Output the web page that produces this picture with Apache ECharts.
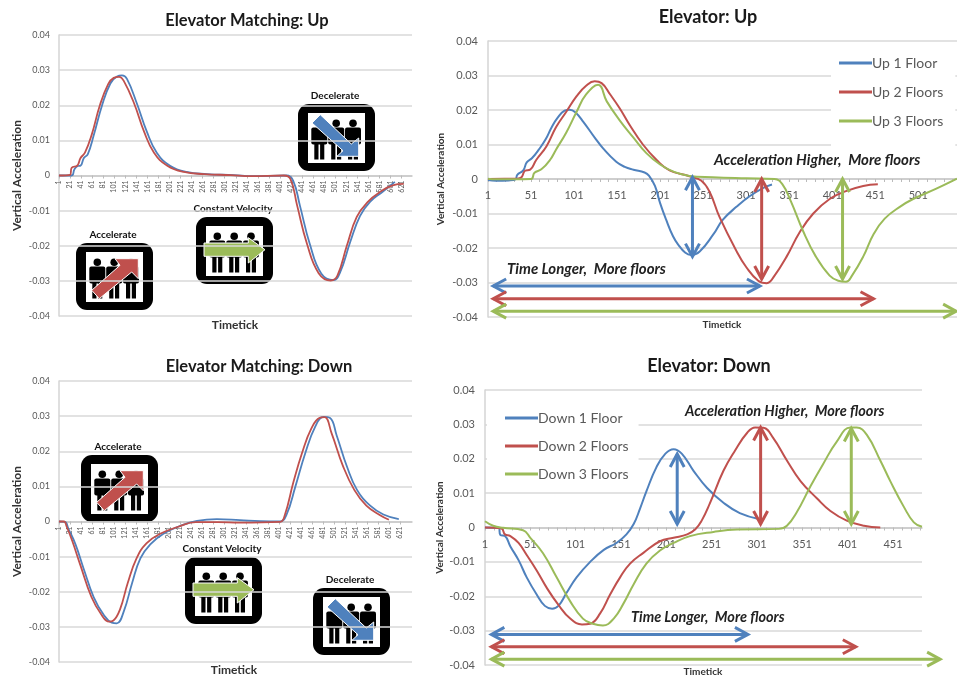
<!DOCTYPE html>
<html>
<head>
<meta charset="utf-8">
<style>html,body{margin:0;padding:0;background:#fff}#chart{width:957px;height:679px}</style>
<script src="https://cdn.jsdelivr.net/npm/echarts@6/dist/echarts.min.js"></script>
</head>
<body>
<div id="chart"></div>
<script>
// Elevator vertical acceleration traces, as [timetick, acceleration] pairs.
const matchUpBlue = [[1,0],[24,0],[29,.0018],[35,.0027],[40,.0028],[46,.005],[53,.006],[64,.0115],[79,.02],[94,.0262],[106,.0282],[115,.0285],[124,.0275],[142,.0205],[160,.0125],[178,.0065],[202,.0028],[232,.001],[269,.0004],[317,.0001],[353,-.0002],[413,0],[425,-.0015],[437,-.0085],[455,-.0195],[476,-.028],[498,-.0298],[510,-.0275],[528,-.019],[546,-.0115],[564,-.0075],[588,-.0045],[609,-.0018]];
const matchUpRed = [[1,0],[21,.0002],[24,.0022],[34,.0028],[40,.005],[48,.0065],[60,.0115],[75,.02],[90,.026],[100,.0278],[110,.0281],[118,.027],[137,.0205],[155,.0125],[173,.0065],[197,.0028],[227,.001],[264,.0004],[312,.0001],[348,-.0002],[408,0],[420,-.001],[432,-.0085],[450,-.0195],[471,-.0278],[493,-.0299],[505,-.0285],[522,-.02],[540,-.0118],[560,-.0075],[584,-.0045],[605,-.0028],[625,-.0024]];

const matchDownBlue = [[1,0],[12,-.0001],[18,-.002],[31,-.0065],[46,-.0135],[64,-.0215],[82,-.0265],[97,-.0288],[106,-.029],[119,-.0255],[134,-.0175],[149,-.0105],[167,-.0065],[191,-.0035],[222,-.0012],[252,.0002],[288,.0007],[330,.0004],[367,.0001],[403,0],[415,.002],[431,.01],[449,.0195],[467,.027],[482,.0298],[494,.0295],[506,.0245],[525,.0155],[543,.009],[567,.0045],[591,.002],[619,.0007]];
const matchDownRed = [[1,0],[10,0],[15,-.0015],[25,-.0055],[40,-.0125],[60,-.0215],[78,-.0265],[92,-.0285],[100,-.0282],[112,-.025],[126,-.0175],[142,-.0105],[160,-.0062],[185,-.0035],[218,-.0015],[250,-.0002],[290,-.0002],[330,-.0003],[403,-.0001],[412,.002],[427,.011],[443,.0195],[460,.0265],[475,.0295],[484,.0297],[497,.025],[517,.016],[538,.009],[560,.0045],[585,.0018],[601,.0005]];

const up1Floor = [[1,-.0003],[10,-.0005],[25,-.0004],[33,-.0001],[35,.0012],[42,.0025],[46,.0048],[52,.006],[60,.0085],[68,.0115],[75,.015],[82,.0178],[90,.0198],[96,.0201],[103,.0192],[112,.0165],[125,.012],[135,.0088],[150,.005],[160,.0035],[170,.0027],[183,.0019],[188,.001],[195,-.002],[201,-.007],[208,-.0118],[216,-.0166],[222,-.019],[230,-.0213],[237,-.022],[247,-.021],[263,-.016],[274,-.0118],[290,-.008],[305,-.005],[321,-.0026],[331,-.0016]];
const up2Floors = [[1,0],[20,.0001],[35,.0001],[40,.0005],[44,.0024],[50,.0027],[57,.0055],[69,.0095],[80,.015],[92,.0195],[104,.024],[115,.027],[125,.0283],[133,.0278],[143,.0245],[154,.0205],[166,.0155],[181,.01],[197,.0055],[212,.0025],[235,.0008],[249,-.0005],[259,-.004],[270,-.011],[290,-.021],[301,-.0255],[315,-.0295],[325,-.0302],[334,-.028],[348,-.0225],[363,-.0155],[379,-.01],[398,-.0058],[417,-.0035],[437,-.002],[454,-.0015]];
const up3Floors = [[1,.0001],[10,-.0001],[51,0],[55,.0018],[63,.0028],[73,.0055],[80,.0085],[92,.0135],[104,.0195],[115,.0245],[129,.0273],[139,.0225],[154,.017],[170,.012],[185,.0075],[201,.0042],[216,.0022],[235,.0009],[262,.0005],[301,.0002],[334,0],[343,-.0015],[353,-.0065],[367,-.015],[382,-.0225],[398,-.028],[408,-.0295],[417,-.0298],[424,-.028],[437,-.0225],[449,-.016],[462,-.0115],[480,-.008],[495,-.0058],[522,-.0028],[546,.0001]];

const down1Floor = [[1,0],[16,-.0001],[18,-.0022],[23,-.0025],[29,-.0055],[38,-.0095],[47,-.0145],[58,-.0195],[67,-.0228],[75,-.0236],[82,-.0228],[91,-.019],[102,-.0145],[117,-.01],[132,-.0065],[146,-.0045],[157,-.002],[165,.001],[172,.0055],[179,.0105],[190,.0175],[200,.0215],[209,.0228],[218,.0215],[231,.0165],[246,.0115],[264,.0072],[282,.0042],[303,.0025]];
const down2Floors = [[1,0],[19,-.0003],[23,-.002],[29,-.0025],[38,-.0045],[47,-.008],[58,-.0125],[69,-.0175],[82,-.0225],[95,-.0265],[108,-.0282],[117,-.028],[128,-.025],[139,-.0195],[150,-.0145],[161,-.0105],[176,-.0073],[194,-.004],[209,-.003],[224,-.002],[233,-.0005],[240,.002],[249,.007],[264,.0165],[277,.0225],[290,.0275],[299,.0291],[308,.029],[319,.026],[334,.0195],[349,.0135],[367,.0085],[382,.0048],[400,.002],[419,.0005],[437,0]];
const down3Floors = [[1,.0018],[10,.0005],[21,-.0001],[43,-.0008],[51,-.003],[65,-.0075],[80,-.0145],[95,-.0215],[109,-.0265],[120,-.028],[131,-.0285],[143,-.0265],[154,-.022],[165,-.0165],[179,-.0105],[194,-.0067],[209,-.0045],[227,-.0025],[253,-.0013],[279,-.0006],[325,-.0004],[334,.0005],[345,.0045],[360,.012],[374,.0185],[389,.025],[404,.0291],[411,.0291],[422,.027],[437,.0195],[448,.0135],[463,.006],[474,.0015],[483,.0002]];

// Double-headed annotation arrows: one per floor count.
const upPeakArrows = [[238.6,.0005,238.6,-.0225],[319,0,319,-.029],[413,0,413,-.029]];
const upSpanArrows = [[7,-.031,317,-.031],[7,-.0347,449,-.0347],[7,-.0383,545,-.0383]];
const downPeakArrows = [[213,.0214,213,.001],[305,.0291,305,.001],[405,.0288,405,.001]];
const downSpanArrows = [[8,-.0311,291,-.0311],[8,-.0347,410,-.0347],[8,-.0383,503,-.0383]];

const everyTwenty = [];
for (let t = 1; t <= 621; t += 20) everyTwenty.push(t);
const everyFifty = [1,51,101,151,201,251,301,351,401,451,501];
const everyFiftyShort = [1,51,101,151,201,251,301,351,401,451];
const everyTen = [];
for (let t = 1; t <= 541; t += 10) everyTen.push(t);

const BLUE = '#4f81bd', RED = '#c0504d', GREEN = '#9bbb59';
const PALETTE = [BLUE, RED, GREEN];
const FONT = 'Lato';

const panels = [
  {box:[59,35,353,281], xMax:640, labels:everyTwenty, ticks:everyTwenty, labelSize:7, rotate:90, margin:5, yFont:9, yMargin:9, nameFont:12, nameGap:36, xFont:12, xx:235, xy:319, w:1.8,
   title:'Elevator Matching: Up', tx:247, ty:12, tf:16.5, lines:[['Matched up A',matchUpBlue,BLUE],['Matched up B',matchUpRed,RED]]},
  {box:[488,41,469,276], xMax:546, labels:everyFifty, ticks:everyTen, labelSize:11, rotate:0, margin:11, yFont:11, yMargin:10, nameFont:10, nameGap:42, xFont:10, xx:722, xy:320, w:2,
   title:'Elevator: Up', tx:708, ty:8, tf:18, lines:[['Up 1 Floor',up1Floor,BLUE],['Up 2 Floors',up2Floors,RED],['Up 3 Floors',up3Floors,GREEN]], arrows:[upPeakArrows,upSpanArrows]},
  {box:[59,381,353,281], xMax:643, labels:everyTwenty, ticks:everyTwenty, labelSize:7, rotate:90, margin:5, yFont:9, yMargin:9, nameFont:12, nameGap:36, xFont:12, xx:234, xy:664, w:1.8,
   title:'Elevator Matching: Down', tx:259, ty:358, tf:16.5, lines:[['Matched down A',matchDownBlue,BLUE],['Matched down B',matchDownRed,RED]]},
  {box:[485,390,437,275], xMax:483, labels:everyFiftyShort, ticks:everyTen.filter(t => t <= 481), labelSize:11, rotate:0, margin:11, yFont:11, yMargin:10, nameFont:10, nameGap:36, xFont:10, xx:703, xy:667, w:2,
   title:'Elevator: Down', tx:709, ty:357, tf:18, lines:[['Down 1 Floor',down1Floor,BLUE],['Down 2 Floors',down2Floors,RED],['Down 3 Floors',down3Floors,GREEN]], arrows:[downPeakArrows,downSpanArrows]}
];

// Open-headed double arrow drawn through the panel's axes.
function renderArrow(params, api) {
  const a = api.coord([api.value(0), api.value(1)]);
  const b = api.coord([api.value(2), api.value(3)]);
  const color = PALETTE[api.value(4)];
  const ang = Math.atan2(b[1] - a[1], b[0] - a[0]);
  const len = 13, half = 7;
  const head = (p, dir) => {
    const ux = Math.cos(dir), uy = Math.sin(dir);
    return {type:'polyline', shape:{points:[
      [p[0] + ux * len - uy * half, p[1] + uy * len + ux * half], p,
      [p[0] + ux * len + uy * half, p[1] + uy * len - ux * half]
    ]}, style:{stroke:color, lineWidth:3, fill:null, lineJoin:'miter'}};
  };
  return {type:'group', children:[
    {type:'line', shape:{x1:a[0], y1:a[1], x2:b[0], y2:b[1]}, style:{stroke:color, lineWidth:3}},
    head(a, ang), head(b, ang + Math.PI)
  ]};
}

const grid = [], xAxis = [], yAxis = [], series = [], title = [];
panels.forEach((p, i) => {
  grid.push({left:p.box[0], top:p.box[1], width:p.box[2], height:p.box[3], outerBoundsMode:'none'});
  title.push({text:p.title, left:p.tx, top:p.ty, textAlign:'center', padding:0,
    textStyle:{fontFamily:FONT, fontWeight:'bold', fontSize:p.tf, color:'#1a1a1a'}});
  title.push({text:'Timetick', left:p.xx, top:p.xy, textAlign:'center', padding:0,
    textStyle:{fontFamily:FONT, fontWeight:'bold', fontSize:p.xFont, color:'#333'}});
  // The time axis runs along the zero level, halfway up the symmetric value range.
  xAxis.push({type:'value', gridIndex:i, min:1, max:p.xMax, splitLine:{show:false},
    position:'bottom', offset:-p.box[3] / 2,
    axisLine:{onZero:false, lineStyle:{color:'#c8c8c8', width:1.5}},
    axisTick:{show:true, customValues:p.ticks, length:3, lineStyle:{color:'#bbb'}},
    axisLabel:{customValues:p.labels, fontFamily:FONT, fontSize:p.labelSize, rotate:p.rotate, margin:p.margin, color:'#595959', hideOverlap:false}});
  yAxis.push({type:'value', gridIndex:i, min:-0.04, max:0.04, interval:0.01,
    name:'Vertical Acceleration', nameLocation:'middle', nameGap:p.nameGap,
    nameTextStyle:{fontFamily:FONT, fontWeight:'bold', fontSize:p.nameFont, color:'#333'},
    axisLine:{show:true, onZero:false, lineStyle:{color:'#d4d4d4', width:1.5}},
    axisTick:{show:false},
    axisLabel:{fontFamily:FONT, fontSize:p.yFont, color:'#595959', margin:p.yMargin,
      formatter:v => Math.abs(v) < 1e-9 ? '0' : v.toFixed(2)},
    splitLine:{show:true, lineStyle:{color:'#d9d9d9', width:1.5}}});
  p.lines.forEach(l => series.push({type:'line', name:l[0], xAxisIndex:i, yAxisIndex:i, data:l[1],
    showSymbol:false, smooth:0.45, z:3, clip:false,
    itemStyle:{color:l[2]}, lineStyle:{color:l[2], width:p.w}}));
  (p.arrows || []).forEach((set, k) => series.push({type:'custom', name:'arrows ' + i + k, xAxisIndex:i, yAxisIndex:i, z:4,
    clip:false, encode:{x:[0,2], y:[1,3]}, renderItem:renderArrow,
    data:set.map((r, c) => [r[0], r[1], r[2], r[3], c])}));
});

const legendBase = {orient:'vertical', icon:'rect', itemWidth:33, itemHeight:3, backgroundColor:'#fff',
  textStyle:{fontFamily:FONT, fontSize:14, color:'#595959', padding:[0,0,0,-5]}, selectedMode:false};
const legend = [
  Object.assign({}, legendBase, {left:831, top:50, itemGap:15, padding:[6,12,23,8], data:['Up 1 Floor','Up 2 Floors','Up 3 Floors']}),
  Object.assign({}, legendBase, {left:487, top:403, itemGap:14, padding:[8,10,8,18], data:['Down 1 Floor','Down 2 Floors','Down 3 Floors']})
];

// Elevator pictogram: rounded black frame, three riders, coloured motion arrow.
const ARROW_SHAPES = {
  accelerate:[[15.7,47.3],[44,22.3],[39,15.7],[62.3,15.7],[62.3,35.7],[55.7,29],[23.3,55.7]],
  constant:[[8,26],[52.3,26],[52.3,20.7],[69,32.7],[52.3,46],[52.3,39.3],[8,39.3]],
  decelerate:[[14,19],[22.3,10.7],[53.3,40],[60.7,34],[60.7,52.3],[39,52.3],[45,46.7]]
};
function elevatorIcon(x, y, kind, color, label) {
  const kids = [
    {type:'rect', shape:{x:-6, y:-14, width:89, height:85}, style:{fill:'#fff'}},
    {type:'rect', shape:{x:0, y:0, width:77, height:67, r:11}, style:{fill:'#000'}},
    {type:'rect', shape:{x:10, y:9, width:57, height:50}, style:{fill:'#fff'}}
  ];
  [21.3, 38.2, 55].forEach(cx => {
    kids.push({type:'circle', shape:{cx:cx, cy:19.3, r:3.8}, style:{fill:'#000'}});
    kids.push({type:'rect', shape:{x:cx - 8, y:23.5, width:16, height:17, r:2}, style:{fill:'#000'}});
    kids.push({type:'rect', shape:{x:cx - 5, y:30, width:4.2, height:25.5}, style:{fill:'#000'}});
    kids.push({type:'rect', shape:{x:cx + 0.8, y:30, width:4.2, height:25.5}, style:{fill:'#000'}});
  });
  kids.push({type:'polygon', shape:{points:ARROW_SHAPES[kind]}, style:{fill:color, stroke:'#fff', lineWidth:1}});
  kids.push({type:'text', x:37, y:-8, style:{text:label, fontFamily:FONT, fontWeight:'bold', fontSize:10, fill:'#111', textAlign:'center', textVerticalAlign:'middle'}});
  return {type:'group', x:x, y:y, z:5, children:kids};
}
function note(text, x, y, size) {
  return {type:'text', x:x, y:y, z:6, style:{text:text, fontFamily:FONT, fontStyle:'italic', fontWeight:'bold', fontSize:size, fill:'#222', textVerticalAlign:'middle'}};
}
const graphic = [
  elevatorIcon(76,243,'accelerate',RED,'Accelerate'),
  elevatorIcon(196,217,'constant',GREEN,'Constant Velocity'),
  elevatorIcon(298,104,'decelerate',BLUE,'Decelerate'),
  elevatorIcon(81,455,'accelerate',RED,'Accelerate'),
  elevatorIcon(185,557,'constant',GREEN,'Constant Velocity'),
  elevatorIcon(313,588,'decelerate',BLUE,'Decelerate'),
  note('Acceleration Higher,  More floors',714,160,15),
  note('Time Longer,  More floors',507,269,15),
  note('Acceleration Higher,  More floors',685,411,14.5),
  note('Time Longer,  More floors',631,617,14.5)
];

const chart = echarts.init(document.getElementById('chart'), null, {renderer:'canvas'});
chart.setOption({animation:false, backgroundColor:'#fff', title, grid, xAxis, yAxis, series, legend, graphic});
</script>
</body>
</html>
